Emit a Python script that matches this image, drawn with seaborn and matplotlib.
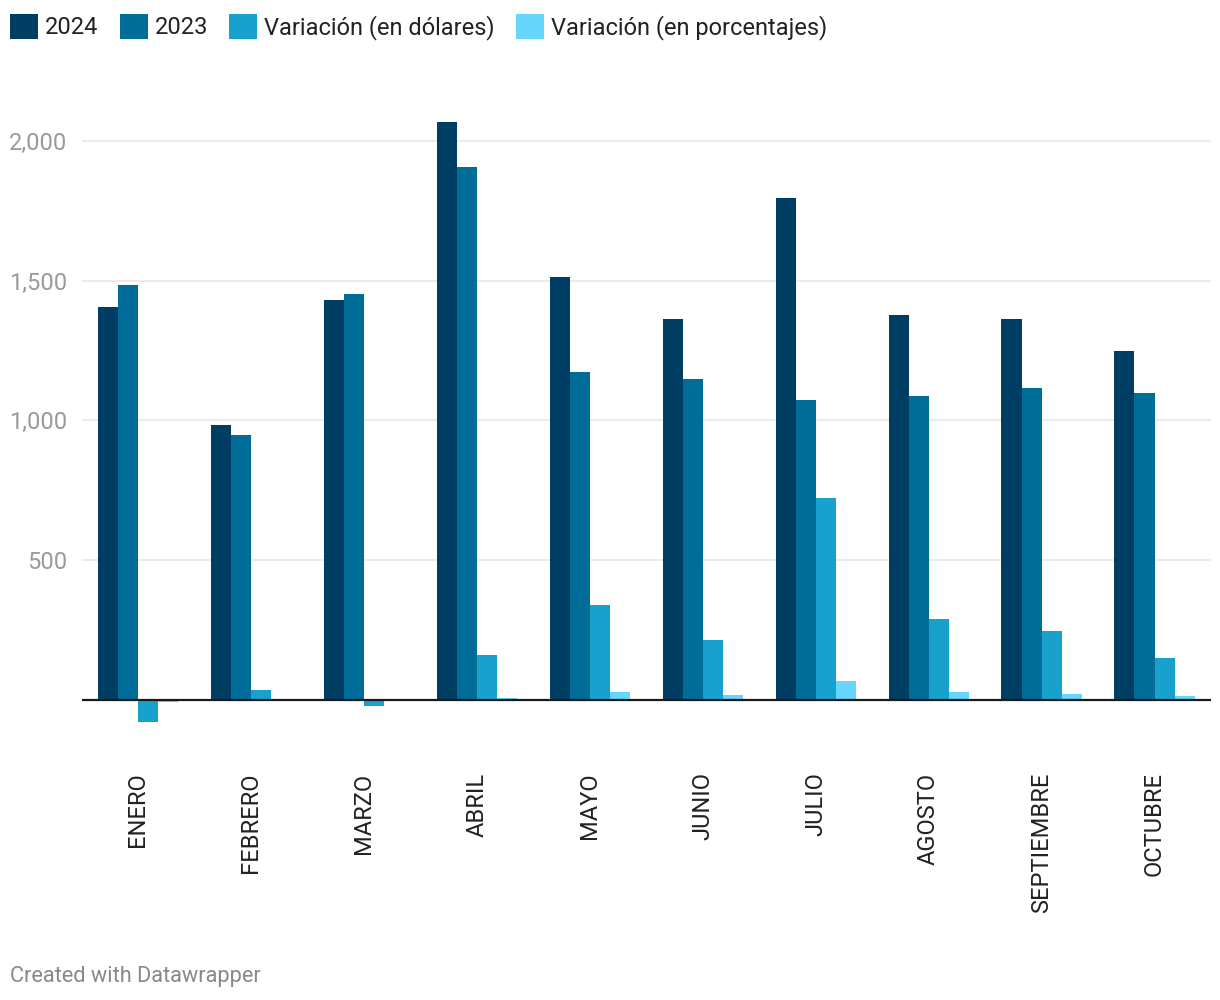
import pandas as pd
import numpy as np
import seaborn as sns
import matplotlib.pyplot as plt
from matplotlib.ticker import FuncFormatter

# datos
meses = ['ENERO', 'FEBRERO', 'MARZO', 'ABRIL', 'MAYO', 'JUNIO',
         'JULIO', 'AGOSTO', 'SEPTIEMBRE', 'OCTUBRE']
ventas_2024 = [1406, 984, 1431, 2069, 1513, 1363, 1797, 1377, 1362, 1248]
ventas_2023 = [1485, 947, 1453, 1908, 1174, 1148, 1073, 1087, 1115, 1098]
var_dolares = [-79, 37, -22, 161, 339, 215, 724, 290, 247, 150]
var_porcentaje = [-7, 3.9, -1.5, 8.4, 28.9, 18.7, 67.5, 26.7, 22.2, 13.7]

series = ['2024', '2023', 'Variación (en dólares)', 'Variación (en porcentajes)']
colores = ['#003d62', '#006c98', '#19a1ce', '#68d6fc']

# tabla larga para seaborn
df = pd.DataFrame({
    'mes': meses * 4,
    'serie': np.repeat(series, len(meses)),
    'valor': ventas_2024 + ventas_2023 + var_dolares + var_porcentaje,
})

sns.set_theme(style='white')
plt.rcParams['font.family'] = ['Roboto', 'DejaVu Sans']

fig = plt.figure(figsize=(12.2, 10), dpi=100)
ax = fig.add_axes([81.5 / 1220, 0.254, 1129.5 / 1220, 0.661])

sns.barplot(data=df, x='mes', y='valor', hue='serie', order=meses,
            hue_order=series, palette=colores, saturation=1, width=0.71,
            linewidth=0, errorbar=None, ax=ax)

ax.set_xlim(-0.5, 9.5)
ax.set_ylim(-165, 2200)
ax.set_yticks([500, 1000, 1500, 2000])
ax.yaxis.set_major_formatter(FuncFormatter(lambda v, p: f'{v:,.0f}'))
ax.grid(axis='y', color='#e5e5e5', linewidth=1.1)
ax.set_axisbelow(True)
ax.axhline(0, color='#1a1a1a', linewidth=1.6, zorder=5)

for s in ax.spines.values():
    s.set_visible(False)
ax.set_xlabel('')
ax.set_ylabel('')
ax.tick_params(axis='y', length=0, pad=10, labelsize=17, labelcolor='#9a9a9a')
ax.tick_params(axis='x', length=0, pad=19, labelsize=17, labelcolor='#222222',
               labelrotation=90)

# leyenda arriba en una fila
handles, labels = ax.get_legend_handles_labels()
ax.legend_.remove()
fig.legend(handles, labels, loc='upper left', bbox_to_anchor=(10 / 1220, 1 - 14 / 1000),
           ncol=4, frameon=False, fontsize=17, borderpad=0, borderaxespad=0,
           handlelength=1.2, handleheight=1.25, handletextpad=0.28,
           columnspacing=0.9, labelcolor='#222222')

fig.text(10 / 1220, 1 - 982 / 1000, 'Created with Datawrapper', fontsize=15.7,
         color='#888888', va='baseline', ha='left')

fig.savefig('out.png', dpi=100)
